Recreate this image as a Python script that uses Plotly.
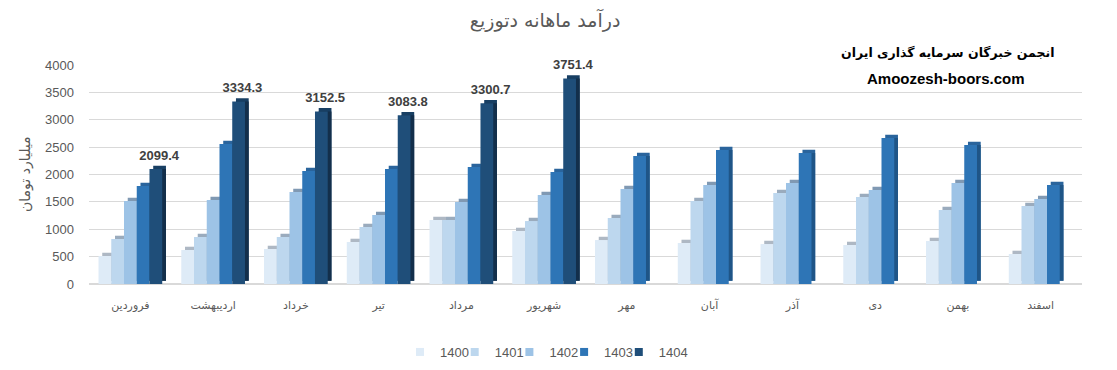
import plotly.graph_objects as go

months = ["فروردین", "اردیبهشت", "خرداد", "تیر", "مرداد", "شهریور",
          "مهر", "آبان", "آذر", "دی", "بهمن", "اسفند"]
years = ["1400", "1401", "1402", "1403", "1404"]

v1400 = [511, 621, 639, 767, 1169, 968, 803, 749, 730, 712, 785, 548]
v1401 = [822, 858, 858, 1041, 1169, 1150, 1205, 1516, 1662, 1589, 1351, 1424]
v1402 = [1515, 1534, 1680, 1260, 1497, 1625, 1735, 1808, 1844, 1716, 1844, 1552]
v1403 = [1790, 2556, 2063, 2100, 2136, 2045, 2337, 2447, 2392, 2666, 2538, 1808]
v1404 = [2099.4, 3334.3, 3152.5, 3083.8, 3300.7, 3751.4, None, None, None, None, None, None]

series = [v1400, v1401, v1402, v1403, v1404]
front_colors = ["#DEEBF7", "#BDD7EE", "#9DC3E6", "#2E75B6", "#1F4E79"]
top_colors = ["#AEB8C4", "#9AABBD", "#8099B3", "#2A649C", "#183F63"]
side_colors = ["#BCC8D4", "#A0B5C9", "#85A5C4", "#1F5587", "#132F4B"]

x = list(range(len(months)))
W = 0.154
START = -0.385
DX = 0.045
DY = 60

fig = go.Figure()

legend_names = ["legend", "legend2", "legend3", "legend4", "legend5"]

# 3D-like top faces (behind)
for i, vals in enumerate(series):
    kw = {}
    if i == 4:
        kw = dict(text=[None if v is None else f"{v:.1f}" for v in vals],
                  textposition="outside", constraintext="none", cliponaxis=False,
                  textfont=dict(family="Liberation Sans", size=13, color="#404040",
                                weight="bold"))
    fig.add_trace(go.Bar(
        x=x, y=vals, base=DY, width=W, offset=START + i * W + DX,
        marker=dict(color=top_colors[i], line=dict(width=0)),
        showlegend=False, hoverinfo="skip", **kw))
# side faces
for i, vals in enumerate(series):
    fig.add_trace(go.Bar(
        x=x, y=[None if v is None else v - DY for v in vals], base=DY,
        width=W, offset=START + i * W + DX,
        marker=dict(color=side_colors[i], line=dict(width=0)),
        showlegend=False, hoverinfo="skip"))

# front faces
for i, vals in enumerate(series):
    fig.add_trace(go.Bar(
        x=x, y=vals, width=W, offset=START + i * W,
        marker=dict(color=front_colors[i], line=dict(width=0)),
        name=years[i], showlegend=False))

# legend entries (small square swatches, like the original)
for i, name in enumerate(years):
    fig.add_trace(go.Scatter(
        x=[None], y=[None], mode="markers", name=name,
        marker=dict(symbol="square", size=8, color=front_colors[i]),
        legend=legend_names[i], hoverinfo="skip"))

legend_common = dict(orientation="h", xref="container", yref="container",
                     yanchor="middle", y=(370 - 352) / 370, xanchor="left",
                     itemwidth=30, bgcolor="rgba(0,0,0,0)",
                     font=dict(family="Liberation Sans", size=13, color="#595959"))
layout_legends = {}
for i, ln in enumerate(legend_names):
    center_px = 422 + 54.7 * i
    layout_legends[ln] = dict(legend_common, x=(center_px - 22) / 1117)

fig.update_layout(
    width=1117, height=370,
    margin=dict(l=89, r=35, t=65, b=86, autoexpand=False),
    paper_bgcolor="white", plot_bgcolor="white",
    barmode="overlay",
    showlegend=True,
    title=dict(text="درآمد ماهانه دتوزیع", x=0.488, xanchor="center", y=0.945,
               yanchor="middle",
               font=dict(family="DejaVu Sans", size=19, color="#595959")),
    font=dict(family="Liberation Sans", color="#595959"),
    **layout_legends,
)

fig.update_xaxes(
    tickmode="array", tickvals=x, ticktext=months, range=[-0.5, 11.5],
    showgrid=False, showline=False, zeroline=False, ticks="",
    tickfont=dict(family="DejaVu Sans", size=11, color="#595959"),
    ticklabelstandoff=13,
)
fig.update_yaxes(
    range=[0, 4000], dtick=500, showgrid=True, gridcolor="#D9D9D9", gridwidth=1,
    zeroline=True, zerolinecolor="#D9D9D9", showline=False, ticks="",
    tickfont=dict(family="Liberation Sans", size=13, color="#595959"),
    ticklabelstandoff=14,
)

fig.add_annotation(text="میلیارد تومان", xref="paper", yref="paper",
                   x=-0.064, y=0.5, xanchor="center", yanchor="middle",
                   textangle=-90, showarrow=False,
                   font=dict(family="DejaVu Sans", size=14, color="#595959"))
fig.add_annotation(text="<b>انجمن خبرگان سرمایه گذاری ایران</b>", xref="paper",
                   yref="paper", x=0.865, y=1.055, xanchor="center",
                   yanchor="middle", showarrow=False,
                   font=dict(family="DejaVu Sans", size=12.5, color="#000000"))
fig.add_annotation(text="<b>Amoozesh-boors.com</b>", xref="paper", yref="paper",
                   x=0.863, y=0.94, xanchor="center", yanchor="middle",
                   showarrow=False,
                   font=dict(family="Liberation Sans", size=15, color="#000000"))

fig.write_html("out.html")
